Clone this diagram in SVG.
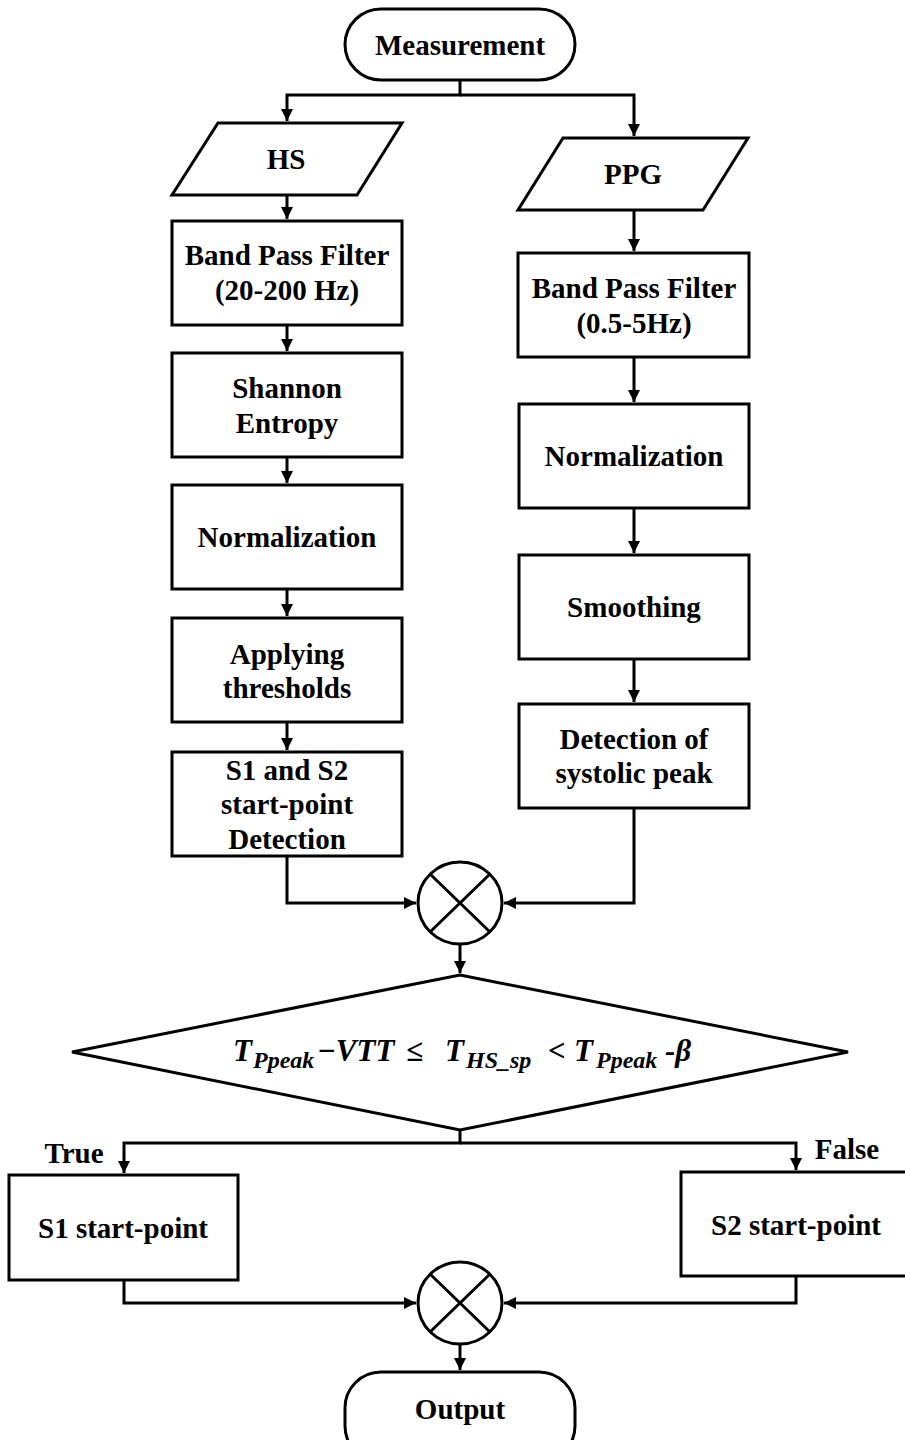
<svg xmlns="http://www.w3.org/2000/svg" width="905" height="1440" viewBox="0 0 905 1440">
  <defs>
    <marker id="arrow" viewBox="0 0 10 10" refX="10" refY="5" markerWidth="4" markerHeight="4" orient="auto" markerUnits="strokeWidth">
      <path d="M0,0 L10,5 L0,10 z" fill="#000"/>
    </marker>
    <style>
      .shape { fill: #fff; stroke: #000; stroke-width: 3; }
      .conn { fill: none; stroke: #000; stroke-width: 3; }
      .lbl { font-family: "Liberation Serif", "Times New Roman", serif; font-weight: bold; font-size: 29px; fill: #000; text-anchor: middle; }
      .math { font-family: "Liberation Serif", "Times New Roman", serif; font-weight: bold; font-style: italic; font-size: 31px; fill: #000; }
      .sub { font-size: 24px; }
    </style>
  </defs>
  <rect width="905" height="1440" fill="#fff"/>

  <!-- connectors -->
  <g id="connectors" class="conn">
    <path d="M460,80 V95 H287 V121" marker-end="url(#arrow)"/>
    <path d="M460,95 H634 V136" marker-end="url(#arrow)"/>
    <path d="M287,195 V219" marker-end="url(#arrow)"/>
    <path d="M287,325 V351" marker-end="url(#arrow)"/>
    <path d="M287,457 V483" marker-end="url(#arrow)"/>
    <path d="M287,589 V616" marker-end="url(#arrow)"/>
    <path d="M287,722 V750" marker-end="url(#arrow)"/>
    <path d="M634,210 V251" marker-end="url(#arrow)"/>
    <path d="M634,357 V402" marker-end="url(#arrow)"/>
    <path d="M634,508 V553" marker-end="url(#arrow)"/>
    <path d="M634,659 V702" marker-end="url(#arrow)"/>
    <path d="M287,856 V903 H416" marker-end="url(#arrow)"/>
    <path d="M634,808 V903 H504" marker-end="url(#arrow)"/>
    <path d="M460,945 V973" marker-end="url(#arrow)"/>
    <path d="M460,1130 V1143 H124 V1173" marker-end="url(#arrow)"/>
    <path d="M460,1143 H796 V1170" marker-end="url(#arrow)"/>
    <path d="M124,1280 V1303 H416" marker-end="url(#arrow)"/>
    <path d="M796,1276 V1303 H504" marker-end="url(#arrow)"/>
    <path d="M460,1345 V1370" marker-end="url(#arrow)"/>
  </g>

  <!-- start terminal -->
  <g id="measurement">
    <rect class="shape" x="345" y="9" width="230" height="71" rx="36" ry="36"/>
    <text class="lbl" x="460" y="55">Measurement</text>
  </g>

  <!-- inputs -->
  <g id="hs">
    <polygon class="shape" points="218,123 402,123 357,195 172,195"/>
    <text class="lbl" x="286" y="169">HS</text>
  </g>
  <g id="ppg">
    <polygon class="shape" points="563,138 748,138 703,210 518,210"/>
    <text class="lbl" x="633" y="184">PPG</text>
  </g>

  <!-- heart-sound branch -->
  <g id="hs-bpf">
    <rect class="shape" x="172" y="221" width="230" height="104"/>
    <text class="lbl" x="287" y="265">Band Pass Filter</text>
    <text class="lbl" x="287" y="300">(20-200 Hz)</text>
  </g>
  <g id="shannon">
    <rect class="shape" x="172" y="353" width="230" height="104"/>
    <text class="lbl" x="287" y="398">Shannon</text>
    <text class="lbl" x="287" y="433">Entropy</text>
  </g>
  <g id="hs-norm">
    <rect class="shape" x="172" y="485" width="230" height="104"/>
    <text class="lbl" x="287" y="547">Normalization</text>
  </g>
  <g id="thresholds">
    <rect class="shape" x="172" y="618" width="230" height="104"/>
    <text class="lbl" x="287" y="664">Applying</text>
    <text class="lbl" x="287" y="698">thresholds</text>
  </g>
  <g id="s1s2-detect">
    <rect class="shape" x="172" y="752" width="230" height="104"/>
    <text class="lbl" x="287" y="780">S1 and S2</text>
    <text class="lbl" x="287" y="814">start-point</text>
    <text class="lbl" x="287" y="849">Detection</text>
  </g>

  <!-- PPG branch -->
  <g id="ppg-bpf">
    <rect class="shape" x="518" y="253" width="231" height="104"/>
    <text class="lbl" x="634" y="298">Band Pass Filter</text>
    <text class="lbl" x="634" y="333">(0.5-5Hz)</text>
  </g>
  <g id="ppg-norm">
    <rect class="shape" x="519" y="404" width="230" height="104"/>
    <text class="lbl" x="634" y="466">Normalization</text>
  </g>
  <g id="smoothing">
    <rect class="shape" x="519" y="555" width="230" height="104"/>
    <text class="lbl" x="634" y="617">Smoothing</text>
  </g>
  <g id="systolic">
    <rect class="shape" x="519" y="704" width="230" height="104"/>
    <text class="lbl" x="634" y="749">Detection of</text>
    <text class="lbl" x="634" y="783">systolic peak</text>
  </g>

  <!-- first junction -->
  <g id="junction1">
    <ellipse class="shape" cx="460" cy="903" rx="42" ry="41"/>
    <path class="conn" d="M430,874 L490,932 M490,874 L430,932"/>
  </g>

  <!-- timing decision -->
  <g id="decision">
    <polygon class="shape" points="460,975 848,1052 460,1130 72,1052"/>
    <text class="math"><tspan x="233" y="1061">T</tspan><tspan class="sub" x="253" y="1068">Ppeak</tspan><tspan x="317" y="1061">−VTT</tspan><tspan x="406" y="1061">≤</tspan><tspan x="445" y="1061">T</tspan><tspan class="sub" x="466" y="1068">HS_sp</tspan><tspan x="548" y="1061">&lt;</tspan><tspan x="574" y="1061">T</tspan><tspan class="sub" x="596" y="1068">Ppeak</tspan><tspan x="665" y="1061">-β</tspan></text>
  </g>

  <!-- branch labels -->
  <text class="lbl" x="74" y="1163" font-size="31">True</text>
  <text class="lbl" x="847" y="1159" font-size="31">False</text>

  <!-- outcomes -->
  <g id="s1">
    <rect class="shape" x="9" y="1175" width="229" height="105"/>
    <text class="lbl" x="123" y="1238">S1 start-point</text>
  </g>
  <g id="s2">
    <rect class="shape" x="681" y="1172" width="230" height="104"/>
    <text class="lbl" x="796" y="1235">S2 start-point</text>
  </g>

  <!-- second junction -->
  <g id="junction2">
    <ellipse class="shape" cx="460" cy="1303" rx="42" ry="41"/>
    <path class="conn" d="M430,1274 L490,1332 M490,1274 L430,1332"/>
  </g>

  <!-- end terminal -->
  <g id="output">
    <rect class="shape" x="345" y="1372" width="230" height="90" rx="36" ry="36"/>
    <text class="lbl" x="460" y="1419">Output</text>
  </g>
</svg>
